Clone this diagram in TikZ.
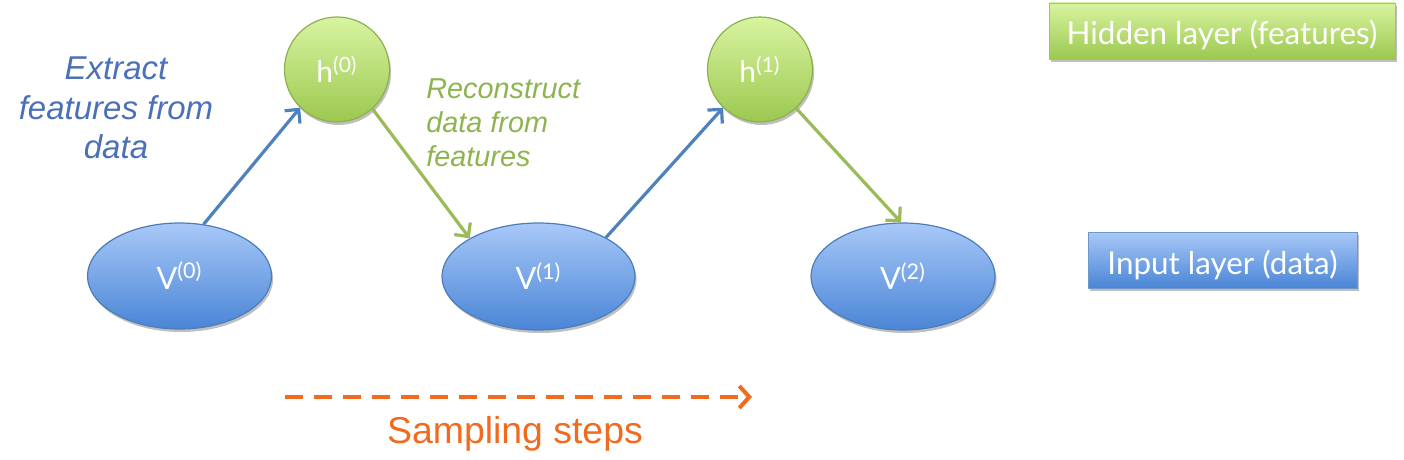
\documentclass[tikz,border=0pt]{standalone}
\usepackage{fontspec}
\setmainfont{Liberation Sans}
\newfontfamily\gillfont{Lato}
\usetikzlibrary{shapes.geometric,arrows.meta,shadows}
\definecolor{bluetxt}{HTML}{4A70B8}
\definecolor{bluearr}{HTML}{4F81BD}
\definecolor{greenarr}{HTML}{9BBB59}
\definecolor{greentxt}{HTML}{8DB44F}
\definecolor{blueTop}{HTML}{A8C8F8}
\definecolor{blueBot}{HTML}{4A85D6}
\definecolor{blueLine}{HTML}{4A7EBB}
\definecolor{greenTop}{HTML}{D8F4A0}
\definecolor{greenBot}{HTML}{9CC850}
\definecolor{greenLine}{HTML}{8DB050}
\definecolor{orangec}{HTML}{F26A1E}
\begin{document}
\begin{tikzpicture}[x=0.5pt,y=-0.5pt,
  shade/.style={drop shadow={shadow xshift=0.8pt,shadow yshift=-1.5pt,opacity=0.25,fill=black}},
  vnode/.style={ellipse,draw=blueLine,line width=0.6pt,top color=blueTop,bottom color=blueBot,
    inner sep=0pt,shade,text=white,text height=13pt,text depth=0pt,font=\gillfont\fontsize{15.4}{17}\selectfont},
  hnode/.style={circle,draw=greenLine,line width=0.6pt,top color=greenTop,bottom color=greenBot,
    inner sep=0pt,minimum size=52.5pt,shade,text=white,font=\gillfont\fontsize{15}{17}\selectfont},
  legbox/.style={rectangle,inner sep=0pt,shade,text=white,text height=14pt,text depth=0pt,font=\gillfont\fontsize{15.7}{17}\selectfont},
  bluearrow/.style={draw=bluearr,line width=1.6pt,-{Straight Barb[length=5pt,width=10pt,line width=1.6pt]}},
  greenarrow/.style={draw=greenarr,line width=1.6pt,-{Straight Barb[length=5pt,width=10pt,line width=1.6pt]}},
  steparrow/.style={draw=orangec,line width=2pt,dash pattern=on 9pt off 5.5pt,-{Straight Barb[length=5pt,width=11pt,line width=2pt]}}
]
\useasboundingbox (0,0) rectangle (1404,460);
% legend boxes
\node[legbox,minimum width=173pt,minimum height=28pt,draw=greenLine!80,line width=0.4pt,top color=greenTop,bottom color=greenBot] (hid) at (1222,31) {Hidden layer (features)};
\node[legbox,minimum width=134.5pt,minimum height=28pt,draw=blueLine!80,line width=0.4pt,top color=blueTop,bottom color=blueBot] (inp) at (1222.5,260) {Input layer (data)};
% nodes
\node[vnode,minimum width=92pt,minimum height=53pt] (V0) at (179.5,276) {V\textsuperscript{(0)}};
\node[vnode,minimum width=96.5pt,minimum height=53.5pt] (V1) at (538.5,276.5) {V\textsuperscript{(1)}};
\node[vnode,minimum width=92pt,minimum height=53.5pt] (V2) at (903,276.5) {V\textsuperscript{(2)}};
\node[hnode] (h0) at (337,69.5) {h\textsuperscript{(0)}};
\node[hnode] (h1) at (760,69.5) {h\textsuperscript{(1)}};
% arrows
\draw[bluearrow] (V0.65) -- (h0.226);
\draw[greenarrow] (h0.-48) -- (V1.151);
\draw[bluearrow] (V1.30) -- (h1.226);
\draw[greenarrow] (h1.-47) -- (V2.92);
% labels
\node[text=bluetxt,align=center,inner sep=0pt,font=\fontsize{16.5}{19.75}\selectfont\itshape] (lab1) at (116,108) {Extract\\features from\\data};
\node[text=greentxt,align=left,anchor=west,inner sep=0pt,font=\fontsize{14.4}{17}\selectfont\itshape] (lab2) at (426,123) {Reconstruct\\data from\\features};
% sampling steps
\coordinate (s0) at (285,397);
\coordinate (s1) at (752,397);
\draw[steparrow] (s0) -- (s1);
\node[text=orangec,anchor=base,font=\fontsize{18.7}{20}\selectfont] (samp) at (515,443) {Sampling steps};
\end{tikzpicture}
\end{document}
